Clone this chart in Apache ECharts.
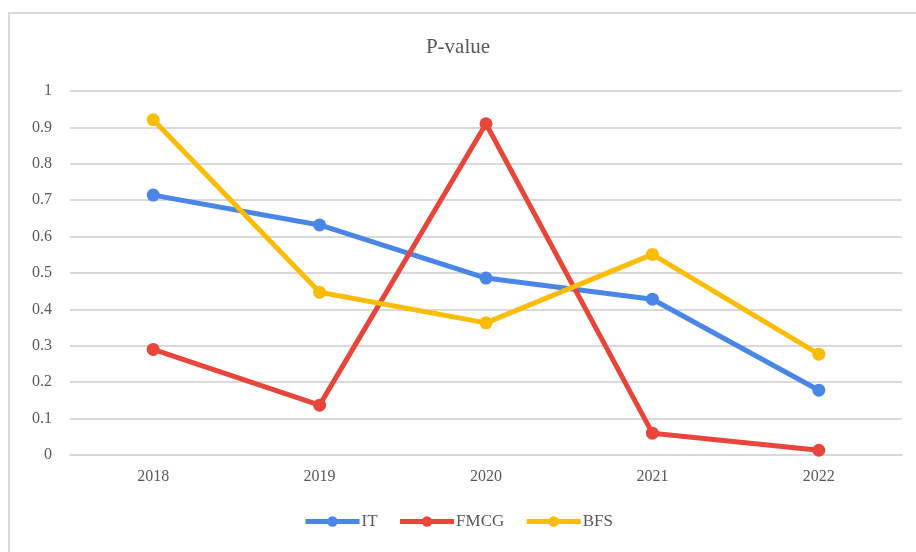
<!DOCTYPE html>
<html>
<head>
<meta charset="utf-8">
<script src="https://cdn.jsdelivr.net/npm/echarts@6/dist/echarts.min.js"></script>
<style>html,body{margin:0;padding:0;background:#fff;}#c{width:916px;height:552px;}</style>
</head>
<body>
<div id="c"></div>
<script>
var categories = ['2018', '2019', '2020', '2021', '2022'];
var itValues = [0.714, 0.632, 0.486, 0.428, 0.178];
var fmcgValues = [0.290, 0.137, 0.910, 0.060, 0.013];
var bfsValues = [0.921, 0.447, 0.363, 0.551, 0.277];
var yTicks = { min: 0, max: 1, interval: 0.1 };

var font = '"Liberation Serif", "Times New Roman", serif';
var chart = echarts.init(document.getElementById('c'));
function s(name, data, color) {
  return {
    name: name, type: 'line', data: data,
    symbol: 'circle', symbolSize: 13,
    lineStyle: { width: 5, color: color },
    itemStyle: { color: color },
    emphasis: { disabled: true }
  };
}
chart.setOption({
  animation: false,
  textStyle: { fontFamily: font },
  graphic: [{
    type: 'rect', left: 8, top: 12, z: -1,
    shape: { width: 916, height: 560 },
    style: { fill: '#fff', stroke: '#d9d9d9', lineWidth: 2 }
  }],
  title: {
    text: 'P-value', left: 'center', top: 32,
    textStyle: { fontFamily: font, fontSize: 21, fontWeight: 'normal', color: '#595959' }
  },
  legend: {
    bottom: 17, left: 'center', itemWidth: 54, itemHeight: 13, itemGap: 20,
    lineStyle: { width: 5 },
    textStyle: { fontFamily: font, fontSize: 17, color: '#595959', padding: [0, 0, 0, -3] },
    data: ['IT', 'FMCG', 'BFS']
  },
  grid: { left: 70, right: 14, top: 91, bottom: 97 },
  xAxis: {
    type: 'category', data: categories, boundaryGap: true,
    axisLine: { lineStyle: { color: '#d9d9d9', width: 2 } },
    axisTick: { show: false },
    axisLabel: { fontFamily: font, fontSize: 16, color: '#595959', margin: 14 }
  },
  yAxis: {
    type: 'value', min: yTicks.min, max: yTicks.max, interval: yTicks.interval,
    axisLine: { show: false }, axisTick: { show: false },
    axisLabel: { fontFamily: font, fontSize: 16, color: '#595959', margin: 18,
      formatter: function (v) { return String(Math.round(v * 10) / 10); } },
    splitLine: { lineStyle: { color: '#d9d9d9', width: 2 } }
  },
  series: [
    s('IT', itValues, '#4a86e8'),
    s('FMCG', fmcgValues, '#e8453c'),
    s('BFS', bfsValues, '#fbbc04')
  ]
});
</script>
</body>
</html>
